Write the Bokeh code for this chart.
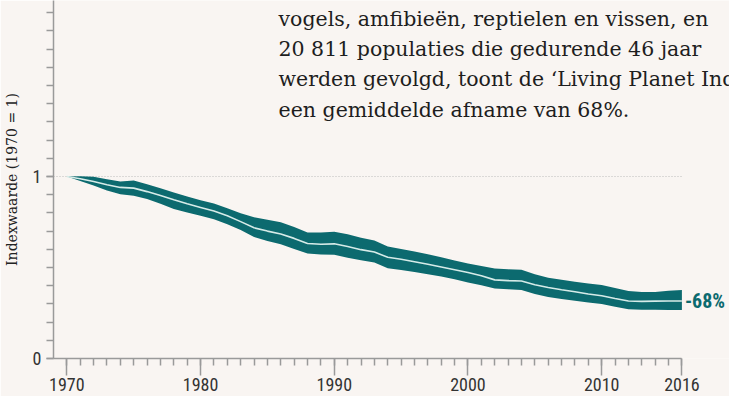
from bokeh.plotting import figure
from bokeh.models import Range1d, FixedTicker, Label, ColumnDataSource
from bokeh.core.properties import value
from bokeh.embed import file_html
from bokeh.resources import INLINE

# ---- data -------------------------------------------------------------
years = list(range(1970, 2017))
center = [1.000, 0.988, 0.972, 0.955, 0.940, 0.936, 0.917, 0.895, 0.872, 0.850,
          0.830, 0.810, 0.784, 0.752, 0.718, 0.700, 0.684, 0.660, 0.632, 0.628,
          0.630, 0.615, 0.598, 0.585, 0.556, 0.545, 0.532, 0.518, 0.503, 0.488,
          0.473, 0.455, 0.432, 0.428, 0.426, 0.405, 0.390, 0.378, 0.367, 0.354,
          0.345, 0.330, 0.316, 0.314, 0.315, 0.316, 0.316]
upper = [1.000, 1.002, 0.998, 0.985, 0.972, 0.978, 0.958, 0.935, 0.912, 0.890,
         0.870, 0.852, 0.826, 0.798, 0.776, 0.762, 0.748, 0.722, 0.692, 0.692,
         0.696, 0.682, 0.664, 0.648, 0.616, 0.602, 0.588, 0.573, 0.556, 0.538,
         0.522, 0.508, 0.495, 0.490, 0.487, 0.463, 0.444, 0.432, 0.422, 0.412,
         0.404, 0.388, 0.371, 0.366, 0.366, 0.372, 0.377]
lower = [1.000, 0.975, 0.950, 0.923, 0.902, 0.894, 0.876, 0.850, 0.822, 0.802,
         0.784, 0.765, 0.738, 0.706, 0.668, 0.645, 0.628, 0.602, 0.577, 0.572,
         0.570, 0.554, 0.540, 0.528, 0.496, 0.486, 0.475, 0.463, 0.450, 0.435,
         0.418, 0.402, 0.385, 0.380, 0.377, 0.355, 0.338, 0.327, 0.317, 0.308,
         0.300, 0.285, 0.270, 0.268, 0.268, 0.267, 0.267]
x_ticks = [1970, 1980, 1990, 2000, 2010, 2016]
y_ticks = [0, 1]
baseline = 1
change_label = "-68%"
y_title = "Indexwaarde (1970 = 1)"
note_lines = ["vogels, amfibieën, reptielen en vissen, en",
              "20 811 populaties die gedurende 46 jaar",
              "werden gevolgd, toont de \u2018Living Planet Index\u2019",
              "een gemiddelde afname van 68%."]

# ---- style ------------------------------------------------------------
BG = "#f9f5f2"
TEAL = "#0c6a6f"
AX = "#9a9a9a"
COND = "'Liberation Sans Narrow', 'Roboto Condensed', 'DejaVu Sans Condensed', sans-serif"
SERIF = "'DejaVu Serif', Georgia, serif"

x0, x1 = years[0] - 1, years[-1]
p = figure(width=729, height=396, output_backend="svg", toolbar_location=None,
           x_range=Range1d(x0, 2019.56), y_range=Range1d(0, 1.967),
           min_border_left=47, min_border_right=0, min_border_top=0,
           min_border_bottom=38, background_fill_color=BG,
           border_fill_color=BG, outline_line_color=None)
p.grid.visible = False

# reference line at baseline
p.line([x0, x1], [baseline, baseline], line_color="#bdbdbd", line_width=1,
       line_dash="1 2")

src = ColumnDataSource(dict(x=years, c=center, u=upper, l=lower))
p.varea(x="x", y1="l", y2="u", source=src, fill_color=TEAL)
p.line(x="x", y="c", source=src, line_color="#d6ebe8", line_width=1.6)

# x axis
xa = p.xaxis[0]
xa.bounds = (x0, x1)
xa.ticker = FixedTicker(ticks=x_ticks, minor_ticks=years)
xa.axis_line_color = AX
xa.axis_line_width = 1.5
xa.major_tick_line_color = AX
xa.minor_tick_line_color = AX
xa.major_tick_line_width = 1.5
xa.minor_tick_line_width = 1.5
xa.major_tick_out = 17
xa.major_tick_in = 0
xa.minor_tick_out = 7
xa.minor_tick_in = 0
xa.major_label_standoff = 2
xa.major_label_text_font = COND
xa.major_label_text_font_size = "18px"
xa.major_label_text_color = "#333333"

# y axis
ya = p.yaxis[0]
ya.ticker = FixedTicker(ticks=y_ticks, minor_ticks=[i / 10 for i in range(0, 20)])
ya.axis_line_color = AX
ya.axis_line_width = 1.5
ya.major_tick_line_color = AX
ya.minor_tick_line_color = AX
ya.major_tick_line_width = 1.5
ya.minor_tick_line_width = 1.5
ya.major_tick_out = 7
ya.major_tick_in = 0
ya.minor_tick_out = 7
ya.minor_tick_in = 0
ya.major_label_standoff = 5
ya.major_label_text_font = COND
ya.major_label_text_font_size = "18px"
ya.major_label_text_color = "#333333"
ya.axis_label = y_title
ya.axis_label_text_font = SERIF
ya.axis_label_text_font_style = "normal"
ya.axis_label_text_font_size = "14px"
ya.axis_label_text_color = "#222222"
ya.axis_label_standoff = 10

# note text
note_x = 1985.83
note_y = [1.863, 1.698, 1.533, 1.368]
p.text(x=[note_x] * len(note_lines), y=note_y, text=note_lines,
       text_font=value(SERIF), text_font_size="20.5px", text_color="#1e1e1e",
       text_baseline="alphabetic", text_align="left")

# end label
p.add_layout(Label(x=years[-1], y=center[-1], text=change_label, x_offset=3,
                   text_baseline="middle", text_align="left", text_font=COND,
                   text_font_style="bold", text_font_size="20px", text_color=TEAL))

open("out.html", "w").write(file_html(p, INLINE))
